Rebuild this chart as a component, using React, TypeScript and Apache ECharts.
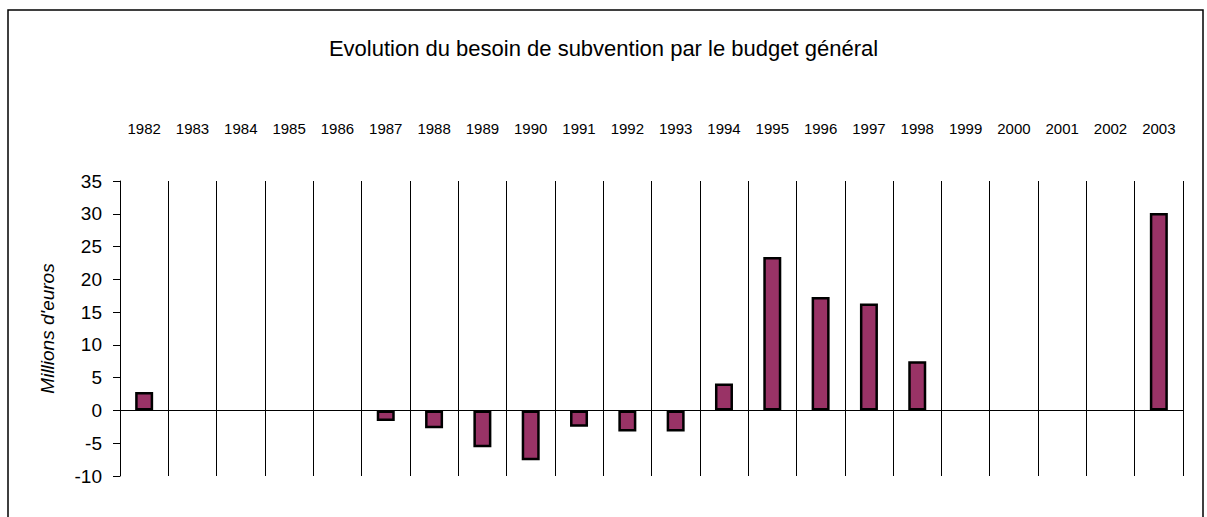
import React, { useEffect, useRef } from "react";
import * as echarts from "echarts";

const years = [
  "1982", "1983", "1984", "1985", "1986", "1987", "1988", "1989", "1990", "1991", "1992",
  "1993", "1994", "1995", "1996", "1997", "1998", "1999", "2000", "2001", "2002", "2003",
];
const besoin: (number | null)[] = [
  2.8, null, null, null, null, -1.6, -2.7, -5.6, -7.6, -2.5, -3.2,
  -3.2, 4.1, 23.4, 17.3, 16.3, 7.5, null, null, null, null, 30.1,
];
const yMin = -10;
const yMax = 35;
const yStep = 5;
const titleText = "Evolution du besoin de subvention par le budget général";
const yName = "Millions d'euros";

const FONT = "'Liberation Sans', Arial, Helvetica, sans-serif";

export default function App() {
  const ref = useRef<HTMLDivElement>(null);
  useEffect(() => {
    if (!ref.current) return;
    const chart = echarts.init(ref.current, undefined, { renderer: "svg" });
    chart.setOption({
      animation: false,
      backgroundColor: "#fff",
      textStyle: { fontFamily: FONT, color: "#000" },
      title: {
        text: titleText,
        left: "center",
        top: 32,
        textStyle: { fontSize: 22, fontWeight: "normal", color: "#000", fontFamily: FONT },
      },
      graphic: [
        {
          type: "rect",
          silent: true,
          z: -1,
          shape: { x: 8, y: 10, width: 1195, height: 600 },
          style: { fill: "none", stroke: "#000", lineWidth: 1.5 },
        },
      ],
      grid: { left: 120, right: 24, top: 181, bottom: 41, containLabel: false },
      xAxis: [
        {
          type: "category",
          data: years,
          position: "top",
          axisLine: { show: false, onZero: false },
          axisTick: { show: false },
          axisLabel: { interval: 0, margin: 45, fontSize: 15, color: "#000", fontFamily: FONT },
          splitLine: { show: true, interval: 0, lineStyle: { color: "#000", width: 1 } },
        },
        {
          type: "category",
          data: years,
          position: "bottom",
          axisLine: { show: true, onZero: true, lineStyle: { color: "#000", width: 1 } },
          axisTick: { show: false },
          axisLabel: { show: false },
          splitLine: { show: false },
        },
      ],
      yAxis: {
        type: "value",
        min: yMin,
        max: yMax,
        interval: yStep,
        name: yName,
        nameLocation: "middle",
        nameGap: 63,
        nameTextStyle: { fontStyle: "italic", fontSize: 19, color: "#000", fontFamily: FONT },
        axisLine: { show: true, onZero: false, lineStyle: { color: "#000", width: 1 } },
        axisTick: { show: true, length: 7, lineStyle: { color: "#000", width: 1 } },
        axisLabel: { fontSize: 19, color: "#000", margin: 18, fontFamily: FONT },
        splitLine: { show: false },
      },
      series: [
        {
          type: "bar",
          xAxisIndex: 0,
          data: besoin,
          barWidth: 18,
          itemStyle: { color: "#993366", borderColor: "#000", borderWidth: 2.5 },
        },
      ],
    });
    return () => chart.dispose();
  }, []);
  return (
    <div
      ref={ref}
      style={{ position: "fixed", left: 0, top: 0, width: 1207, height: 517, background: "#fff" }}
    />
  );
}
